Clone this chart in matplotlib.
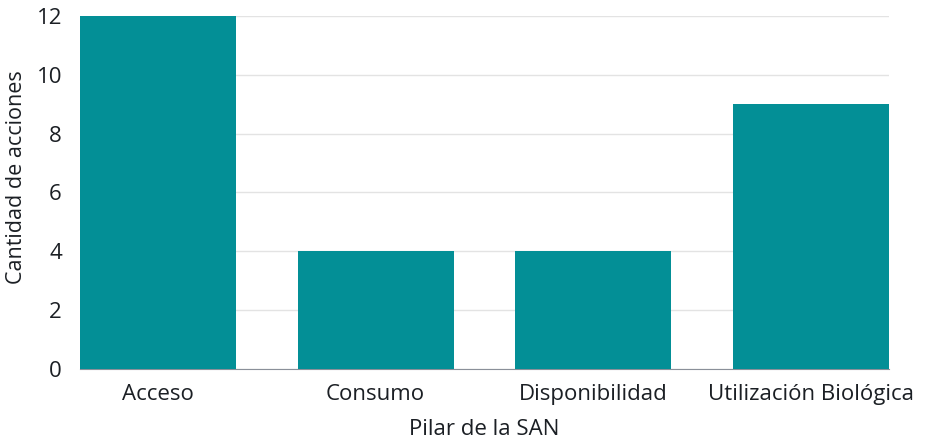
import matplotlib
matplotlib.use("Agg")
import matplotlib.pyplot as plt
import numpy as np

# Acciones por pilar de la SAN
pilares = ["Acceso", "Consumo", "Disponibilidad", "Utilización Biológica"]
acciones = [12, 4, 4, 9]

plt.rcParams['font.family'] = ['Open Sans', 'DejaVu Sans']

fig = plt.figure(figsize=(9.27, 4.43), dpi=100)
ax = fig.add_axes([0.0863, 0.167, 0.8727, 0.797])

x = np.arange(len(pilares))
ax.bar(x, acciones, width=0.716, color="#038f96", zorder=3)

ax.set_xlim(-0.358, len(pilares) - 1 + 0.358)
ax.set_ylim(0, 12)
ax.set_yticks(range(0, 13, 2))
ax.set_xticks(x)
ax.set_xticklabels(pilares)

ax.grid(axis="y", color="#e3e3e3", linewidth=1, zorder=0)
for side in ["top", "right", "left"]:
    ax.spines[side].set_visible(False)
ax.spines["bottom"].set_color("#8a9099")
ax.tick_params(length=0, labelsize=16, colors="#1b1f24", pad=11)
ax.tick_params(axis="y", pad=13)

ax.set_xlabel("Pilar de la SAN", fontsize=16, color="#1b1f24", labelpad=10)
ax.set_ylabel("Cantidad de acciones", fontsize=15.5, color="#1b1f24")
ax.yaxis.set_label_coords(-0.066, 0.544)

fig.savefig("out.png", dpi=100)
